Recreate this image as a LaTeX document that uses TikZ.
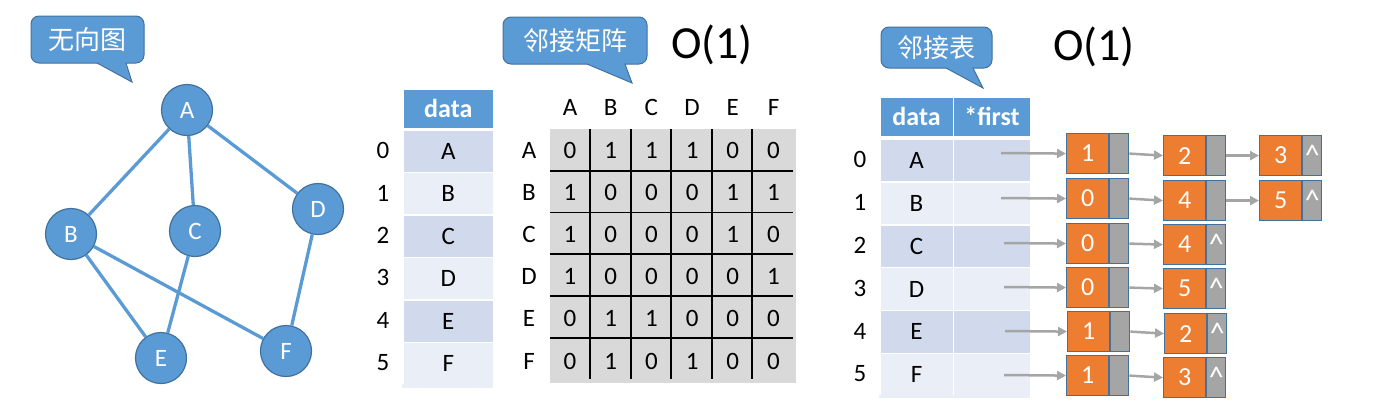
\documentclass[tikz,border=0pt]{standalone}
\usepackage{fontspec}
\setmainfont{Carlito}
\newfontfamily\cjk{Noto Sans CJK SC}
\usetikzlibrary{arrows.meta}
\definecolor{blu}{HTML}{5B9BD5}
\definecolor{bluD}{HTML}{41719C}
\definecolor{rowA}{HTML}{D0DAEC}
\definecolor{rowB}{HTML}{E9EEF7}
\definecolor{org}{HTML}{ED7D31}
\definecolor{gry}{HTML}{A5A5A5}
\definecolor{mat}{HTML}{D9D9D9}
\tikzset{
  txt/.style={inner sep=0, font=\fontsize{25}{30}\selectfont},
  gnodec/.style={circle, fill=blu, draw=bluD, line width=1.2pt, minimum size=51pt, inner sep=0, text=white, font=\fontsize{25}{30}\selectfont},
  gedge/.style={draw=blu, line width=3.3pt},
  callout/.style={fill=blu, draw=bluD, line width=1pt, rounded corners=8pt, inner sep=0, text=white, font=\cjk\fontsize{26}{30}\selectfont},
  tail/.style={fill=blu},
  tailedge/.style={draw=bluD, line width=1pt},
  hdr/.style={fill=blu, draw=white, line width=1.5pt, inner sep=0, anchor=north west, text=white, font=\bfseries\fontsize{26}{30}\selectfont},
  cell/.style={draw=white, line width=1.5pt, inner sep=0, anchor=north west, font=\fontsize{25}{30}\selectfont},
  gridl/.style={draw=black, line width=1.3pt},
  onode/.style={fill=org, draw=bluD, line width=1.2pt, minimum width=42pt, minimum height=40pt, inner sep=0, anchor=north west, text=white, font=\fontsize{26}{30}\selectfont},
  gnode/.style={fill=gry, draw=bluD, line width=1.2pt, minimum width=19pt, minimum height=40pt, inner sep=0, anchor=north west, text=white, font=\fontsize{30}{34}\selectfont},
  arr/.style={draw=gry, line width=2.5pt, -{Triangle[length=9pt,width=9pt]}},
  big/.style={inner sep=0, font=\fontsize{46}{52}\selectfont}
}
\begin{document}
\begin{tikzpicture}[x=1pt,y=-1pt]
\useasboundingbox (0,0) rectangle (1374,405);

% ---------- undirected graph ----------
\node[callout, minimum width=113pt, minimum height=47pt] (cw) at (87.5,39.5) {无向图};
\fill[tail] (97.6,60) -- (97.6,63) -- (132,82) -- (125.6,63) -- (125.6,60) -- cycle;
\draw[tailedge] (97,63) -- (132,82) -- (126,63);

\node[gnodec] (A) at (187,110) {A};
\node[gnodec] (B) at (71,234) {B};
\node[gnodec] (C) at (195,231) {C};
\node[gnodec] (D) at (318,209) {D};
\node[gnodec] (E) at (161,358) {E};
\node[gnodec] (F) at (286,351) {F};
\draw[gedge] (A) -- (B);
\draw[gedge] (A) -- (C);
\draw[gedge] (A) -- (D);
\draw[gedge] (B) -- (E);
\draw[gedge] (B) -- (F);
\draw[gedge] (C) -- (E);
\draw[gedge] (D) -- (F);

% ---------- adjacency matrix ----------
\node[callout, minimum width=144pt, minimum height=47pt] (cm) at (575,40.5) {邻接矩阵};
\fill[tail] (587.6,61) -- (587.6,64) -- (632,83) -- (624.6,64) -- (624.6,61) -- cycle;
\draw[tailedge] (587,64) -- (632,83) -- (625,64);
\node[big] (om) at (712,45) {O(1)};

\node[hdr, minimum width=91pt, minimum height=40pt] (hl) at (402,88) {data};
\foreach \t/\c [count=\i from 0] in {A/rowA,B/rowB,C/rowA,D/rowB,E/rowA,F/rowB}{
  \node[cell, fill=\c, minimum width=91pt, minimum height=42.4pt] (L\i) at (402,{129.5+42.4*\i}) {\t};
  \node[txt] (li\i) at (383,{150.7+42.4*\i}) {\i};
}
\fill[rowB] (402,384) rectangle (493,388);

\node[fill=mat, minimum width=246pt, minimum height=254pt, inner sep=0, anchor=north west] (M) at (550,129) {};
\foreach \x in {590,631,671,712,752}{ \draw[gridl] (\x,129) -- (\x,379); }
\foreach \y in {171,212.5,254,296,338}{ \draw[gridl] (550,\y) -- (793,\y); }
\foreach \t [count=\ci from 0] in {A,B,C,D,E,F}{
  \node[txt] (mc\ci) at ({570+40.7*\ci},107) {\t};
  \node[txt] (mr\ci) at (529,{150+42.2*\ci}) {\t};
}
\foreach \vals [count=\ri from 0] in {{0,1,1,1,0,0},{1,0,0,0,1,1},{1,0,0,0,1,0},{1,0,0,0,0,1},{0,1,1,0,0,0},{0,1,0,1,0,0}}{
  \foreach \v [count=\ci from 0] in \vals {
    \node[txt] (m\ri\ci) at ({570+40.7*\ci},{150+42.2*\ri}) {\v};
  }
}

% ---------- adjacency list ----------
\node[callout, minimum width=111pt, minimum height=41pt] (cl) at (936.5,47.5) {邻接表};
\fill[tail] (946.6,65) -- (946.6,68) -- (983,88) -- (972.6,68) -- (972.6,65) -- cycle;
\draw[tailedge] (946,68) -- (983,88) -- (973,68);
\node[big] (ol) at (1094,47) {O(1)};

\node[hdr, minimum width=73.5pt, minimum height=40pt] (hd) at (879,96) {data};
\node[hdr, minimum width=77.5pt, minimum height=40pt] (hf) at (952.5,96) {*first};
\foreach \t/\c [count=\i from 0] in {A/rowA,B/rowB,C/rowA,D/rowB,E/rowA,F/rowB}{
  \node[cell, fill=\c, minimum width=73.5pt, minimum height=42.8pt] (R\i) at (879,{138.5+42.8*\i}) {\t};
  \node[cell, fill=\c, minimum width=77.5pt, minimum height=42.8pt] (P\i) at (952.5,{138.5+42.8*\i}) {};
  \node[txt] (ri\i) at (860,{159.9+42.8*\i}) {\i};
}
\fill[rowB] (879,395.3) rectangle (1030,398);

% row 0
\node[onode] (o01) at (1066,133) {1}; \node[gnode] (g01) at (o01.north east) {};
\node[onode] (o02) at (1163,135) {2}; \node[gnode] (g02) at (o02.north east) {};
\node[onode] (o03) at (1259,135) {3}; \node[gnode] (g03) at (o03.north east) {\^{}};
% row 1
\node[onode] (o11) at (1066,178) {0}; \node[gnode] (g11) at (o11.north east) {};
\node[onode] (o12) at (1163,180) {4}; \node[gnode] (g12) at (o12.north east) {};
\node[onode] (o13) at (1259,180) {5}; \node[gnode] (g13) at (o13.north east) {\^{}};
% row 2
\node[onode] (o21) at (1066,223) {0}; \node[gnode] (g21) at (o21.north east) {};
\node[onode] (o22) at (1163,224) {4}; \node[gnode] (g22) at (o22.north east) {\^{}};
% row 3
\node[onode] (o31) at (1066,267) {0}; \node[gnode] (g31) at (o31.north east) {};
\node[onode] (o32) at (1163,268) {5}; \node[gnode] (g32) at (o32.north east) {\^{}};
% row 4
\node[onode] (o41) at (1067,311) {1}; \node[gnode] (g41) at (o41.north east) {};
\node[onode] (o42) at (1164,313) {2}; \node[gnode] (g42) at (o42.north east) {\^{}};
% row 5
\node[onode] (o51) at (1066,355) {1}; \node[gnode] (g51) at (o51.north east) {};
\node[onode] (o52) at (1163,357) {3}; \node[gnode] (g52) at (o52.north east) {\^{}};

\coordinate (s0) at (1001,153);
\coordinate (s1) at (1001,198);
\coordinate (s2) at (1004,243);
\coordinate (s3) at (1004,287);
\coordinate (s4) at (1005,331);
\coordinate (s5) at (1004,375);
\foreach \i in {0,...,5}{ \draw[arr] (s\i) -- (o\i1.west); }
\draw[arr] (g01.east) -- (o02.west);
\draw[arr] (g02.east) -- (o03.west);
\draw[arr] (g11.east) -- (o12.west);
\draw[arr] (g12.east) -- (o13.west);
\draw[arr] (g21.east) -- (o22.west);
\draw[arr] (g31.east) -- (o32.west);
\draw[arr] (g41.east) -- (o42.west);
\draw[arr] (g51.east) -- (o52.west);
\end{tikzpicture}
\end{document}
